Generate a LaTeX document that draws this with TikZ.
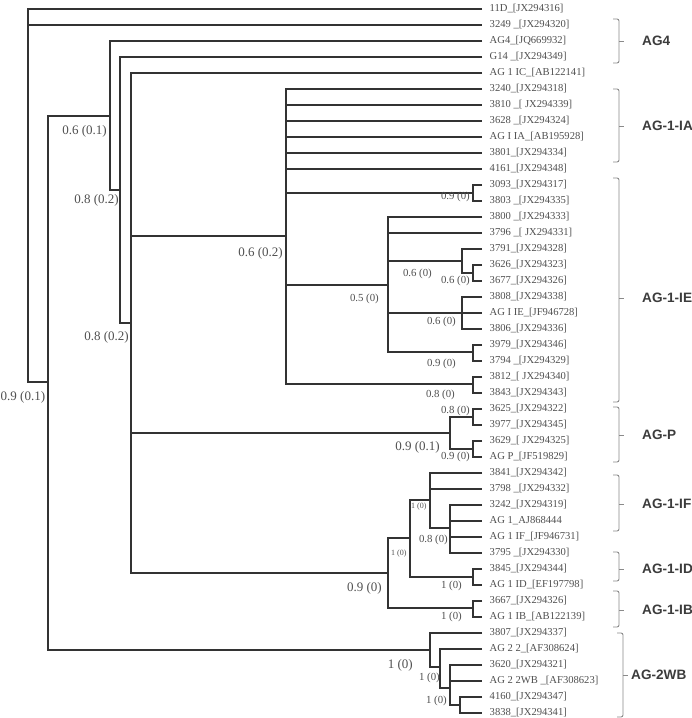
\documentclass[tikz,border=0pt]{standalone}
\usepackage{fontspec}
\setmainfont{Liberation Serif}
\newfontfamily\grpfont{Liberation Sans}
\definecolor{linec}{HTML}{333333}
\definecolor{txtc}{HTML}{505050}
\definecolor{brkc}{HTML}{8A8A8A}
\definecolor{grpc}{HTML}{3C3C3C}
\begin{document}
\begin{tikzpicture}[x=1pt,y=-1pt,
  br/.style={draw=linec, line width=1.6pt},
  leaf/.style={anchor=west, inner xsep=7.5pt, inner ysep=0pt, text=txtc, font=\fontsize{10.6}{12}\selectfont},
  bigl/.style={anchor=east, inner sep=0pt, text=txtc, font=\fontsize{13}{14}\selectfont},
  midl/.style={anchor=east, inner sep=0pt, text=txtc, font=\fontsize{10.8}{12}\selectfont},
  tinyl/.style={anchor=west, inner sep=0pt, text=txtc, font=\fontsize{8}{9}\selectfont},
  grp/.style={anchor=west, inner sep=0pt, text=grpc, font=\grpfont\bfseries\fontsize{13.6}{15}\selectfont},
  brk/.style={draw=brkc, line width=0.9pt, rounded corners=2pt}
]
\useasboundingbox (0,0) rectangle (692,718);
\fill[white] (0,0) rectangle (692,718);

% leaves
\foreach \t [count=\i] in {
 {11D\_[JX294316]},{3249 \_[JX294320]},{AG4\_[JQ669932]},{G14 \_[JX294349]},
 {AG 1 IC\_[AB122141]},{3240\_[JX294318]},{3810 \_[ JX294339]},{3628 \_[JX294324]},
 {AG I IA\_[AB195928]},{3801\_[JX294334]},{4161\_[JX294348]},{3093\_[JX294317]},
 {3803 \_[JX294335]},{3800 \_[JX294333]},{3796 \_[ JX294331]},{3791\_[JX294328]},
 {3626\_[JX294323]},{3677\_[JX294326]},{3808\_[JX294338]},{AG I IE\_[JF946728]},
 {3806\_[JX294336]},{3979\_[JX294346]},{3794 \_[JX294329]},{3812\_[ JX294340]},
 {3843\_[JX294343]},{3625\_[JX294322]},{3977\_[JX294345]},{3629\_[ JX294325]},
 {AG P\_[JF519829]},{3841\_[JX294342]},{3798 \_[JX294332]},{3242\_[JX294319]},
 {AG 1\_AJ868444},{AG 1 IF\_[JF946731]},{3795 \_[JX294330]},{3845\_[JX294344]},
 {AG 1 ID\_[EF197798]},{3667\_[JX294326]},{AG 1 IB\_[AB122139]},{3807\_[JX294337]},
 {AG 2 2\_[AF308624]},{3620\_[JX294321]},{AG 2 2WB \_[AF308623]},{4160\_[JX294347]},
 {3838\_[JX294341]}}
 { \node[leaf] (L\i) at (482,{9+16*(\i-1)}) {\t}; }

% internal nodes
\coordinate (R) at (28,200);
\coordinate (A) at (48,382);
\coordinate (B) at (110,116);
\coordinate (W) at (430,650);
\coordinate (C) at (120,190);
\coordinate (D) at (131,323);
\coordinate (E) at (286,236);
\coordinate (P) at (450,433);
\coordinate (F) at (388,573);
\coordinate (E1) at (473,193);
\coordinate (E2) at (388,285);
\coordinate (E3) at (473,384);
\coordinate (E21) at (462,261);
\coordinate (E211) at (473,273);
\coordinate (E22) at (462,313);
\coordinate (E23) at (473,352);
\coordinate (P1) at (473,417);
\coordinate (P2) at (473,449);
\coordinate (F1) at (410,538);
\coordinate (IB) at (473,608);
\coordinate (F11) at (430,500);
\coordinate (ID) at (473,577);
\coordinate (F111) at (450,528);
\coordinate (W1) at (440,667);
\coordinate (W2) at (450,688);
\coordinate (W3) at (460,705);

% branches
\draw[br] (L1.west) -- (R |- L1.west) -- (R |- A) -- (A) -- (A |- B) -- (B);
\draw[br] (R |- L2.west) -- (L2.west);
\draw[br] (A |- B) -- (A |- W) -- (W);
\draw[br] (L3.west) -- (B |- L3.west) -- (B |- C) -- (C);
\draw[br] (L4.west) -- (C |- L4.west) -- (C |- D) -- (D);
\draw[br] (L5.west) -- (D |- L5.west) -- (D |- F) -- (F);
\draw[br] (D |- E) -- (E);
\draw[br] (D |- P) -- (P);
\draw[br] (L6.west) -- (E |- L6.west) -- (E |- E3) -- (E3);
\foreach \i in {7,...,11} { \draw[br] (E |- L\i.west) -- (L\i.west); }
\draw[br] (E |- E1) -- (E1);
\draw[br] (E |- E2) -- (E2);
\draw[br] (L12.west) -- (E1 |- L12.west) -- (E1 |- L13.west) -- (L13.west);
\draw[br] (L14.west) -- (E2 |- L14.west) -- (E2 |- E23) -- (E23);
\draw[br] (E2 |- L15.west) -- (L15.west);
\draw[br] (E2 |- E21) -- (E21);
\draw[br] (E2 |- E22) -- (E22);
\draw[br] (L16.west) -- (E21 |- L16.west) -- (E21 |- E211) -- (E211);
\draw[br] (L17.west) -- (E211 |- L17.west) -- (E211 |- L18.west) -- (L18.west);
\draw[br] (L19.west) -- (E22 |- L19.west) -- (E22 |- L21.west) -- (L21.west);
\draw[br] (E22 |- L20.west) -- (L20.west);
\draw[br] (L22.west) -- (E23 |- L22.west) -- (E23 |- L23.west) -- (L23.west);
\draw[br] (L24.west) -- (E3 |- L24.west) -- (E3 |- L25.west) -- (L25.west);
\draw[br] (P1) -- (P |- P1) -- (P |- P2) -- (P2);
\draw[br] (L26.west) -- (P1 |- L26.west) -- (P1 |- L27.west) -- (L27.west);
\draw[br] (L28.west) -- (P2 |- L28.west) -- (P2 |- L29.west) -- (L29.west);
\draw[br] (F1) -- (F |- F1) -- (F |- IB) -- (IB);
\draw[br] (F11) -- (F1 |- F11) -- (F1 |- ID) -- (ID);
\draw[br] (L30.west) -- (F11 |- L30.west) -- (F11 |- F111) -- (F111);
\draw[br] (F11 |- L31.west) -- (L31.west);
\draw[br] (L32.west) -- (F111 |- L32.west) -- (F111 |- L35.west) -- (L35.west);
\draw[br] (F111 |- L33.west) -- (L33.west);
\draw[br] (F111 |- L34.west) -- (L34.west);
\draw[br] (L36.west) -- (ID |- L36.west) -- (ID |- L37.west) -- (L37.west);
\draw[br] (L38.west) -- (IB |- L38.west) -- (IB |- L39.west) -- (L39.west);
\draw[br] (L40.west) -- (W |- L40.west) -- (W |- W1) -- (W1);
\draw[br] (L41.west) -- (W1 |- L41.west) -- (W1 |- W2) -- (W2);
\draw[br] (L42.west) -- (W2 |- L42.west) -- (W2 |- W3) -- (W3);
\draw[br] (W2 |- L43.west) -- (L43.west);
\draw[br] (L44.west) -- (W3 |- L44.west) -- (W3 |- L45.west) -- (L45.west);

% support labels
\node[bigl, anchor=west] (s1) at (0.5,397) {0.9 (0.1)};
\node[bigl] (s2) at (107,131) {0.6 (0.1)};
\node[bigl] (s3) at (119,200) {0.8 (0.2)};
\node[bigl] (s4) at (129,337) {0.8 (0.2)};
\node[bigl] (s5) at (283,253) {0.6 (0.2)};
\node[midl] (s6) at (470,197) {0.9 (0)};
\node[midl] (s7) at (379,299) {0.5 (0)};
\node[midl] (s8) at (432,274) {0.6 (0)};
\node[midl] (s9) at (470,281) {0.6 (0)};
\node[midl] (s10) at (456,322) {0.6 (0)};
\node[midl] (s11) at (456,364) {0.9 (0)};
\node[midl] (s12) at (455,395) {0.8 (0)};
\node[midl] (s13) at (470,411) {0.8 (0)};
\node[bigl] (s14) at (440,447) {0.9 (0.1)};
\node[midl] (s15) at (470,457) {0.9 (0)};
\node[tinyl] (s16) at (411,507) {1 (0)};
\node[midl] (s17) at (448,540) {0.8 (0)};
\node[tinyl] (s18) at (391,554) {1 (0)};
\node[midl] (s19) at (462,586) {1 (0)};
\node[bigl] (s20) at (382,588) {0.9 (0)};
\node[midl] (s21) at (462,617) {1 (0)};
\node[bigl] (s22) at (413,665) {1 (0)};
\node[midl] (s23) at (440,678) {1 (0)};
\node[midl] (s24) at (447,701) {1 (0)};

% group brackets
\foreach \top/\bot/\mid/\bx/\lx/\name/\txt in {
  19/63/41/619/642/g1/AG4,
  89/162/126/619/642/g2/AG-1-IA,
  178/402/298/619/642/g3/AG-1-IE,
  407/462/435/619/642/g4/AG-P,
  475/531/504/619/642/g5/AG-1-IF,
  552/581/569/619/642/g6/AG-1-ID,
  591/627/610/619/642/g7/AG-1-IB,
  633/717/675/623/631/g8/AG-2WB}
{
  \draw[brk] (\bx-6,\top) -- (\bx,\top) -- (\bx,\bot) -- (\bx-6,\bot);
  \draw[brk] (\bx,\mid) -- (\bx+5,\mid);
  \node[grp] (\name) at (\lx,\mid) {\txt};
}
\end{tikzpicture}
\end{document}
